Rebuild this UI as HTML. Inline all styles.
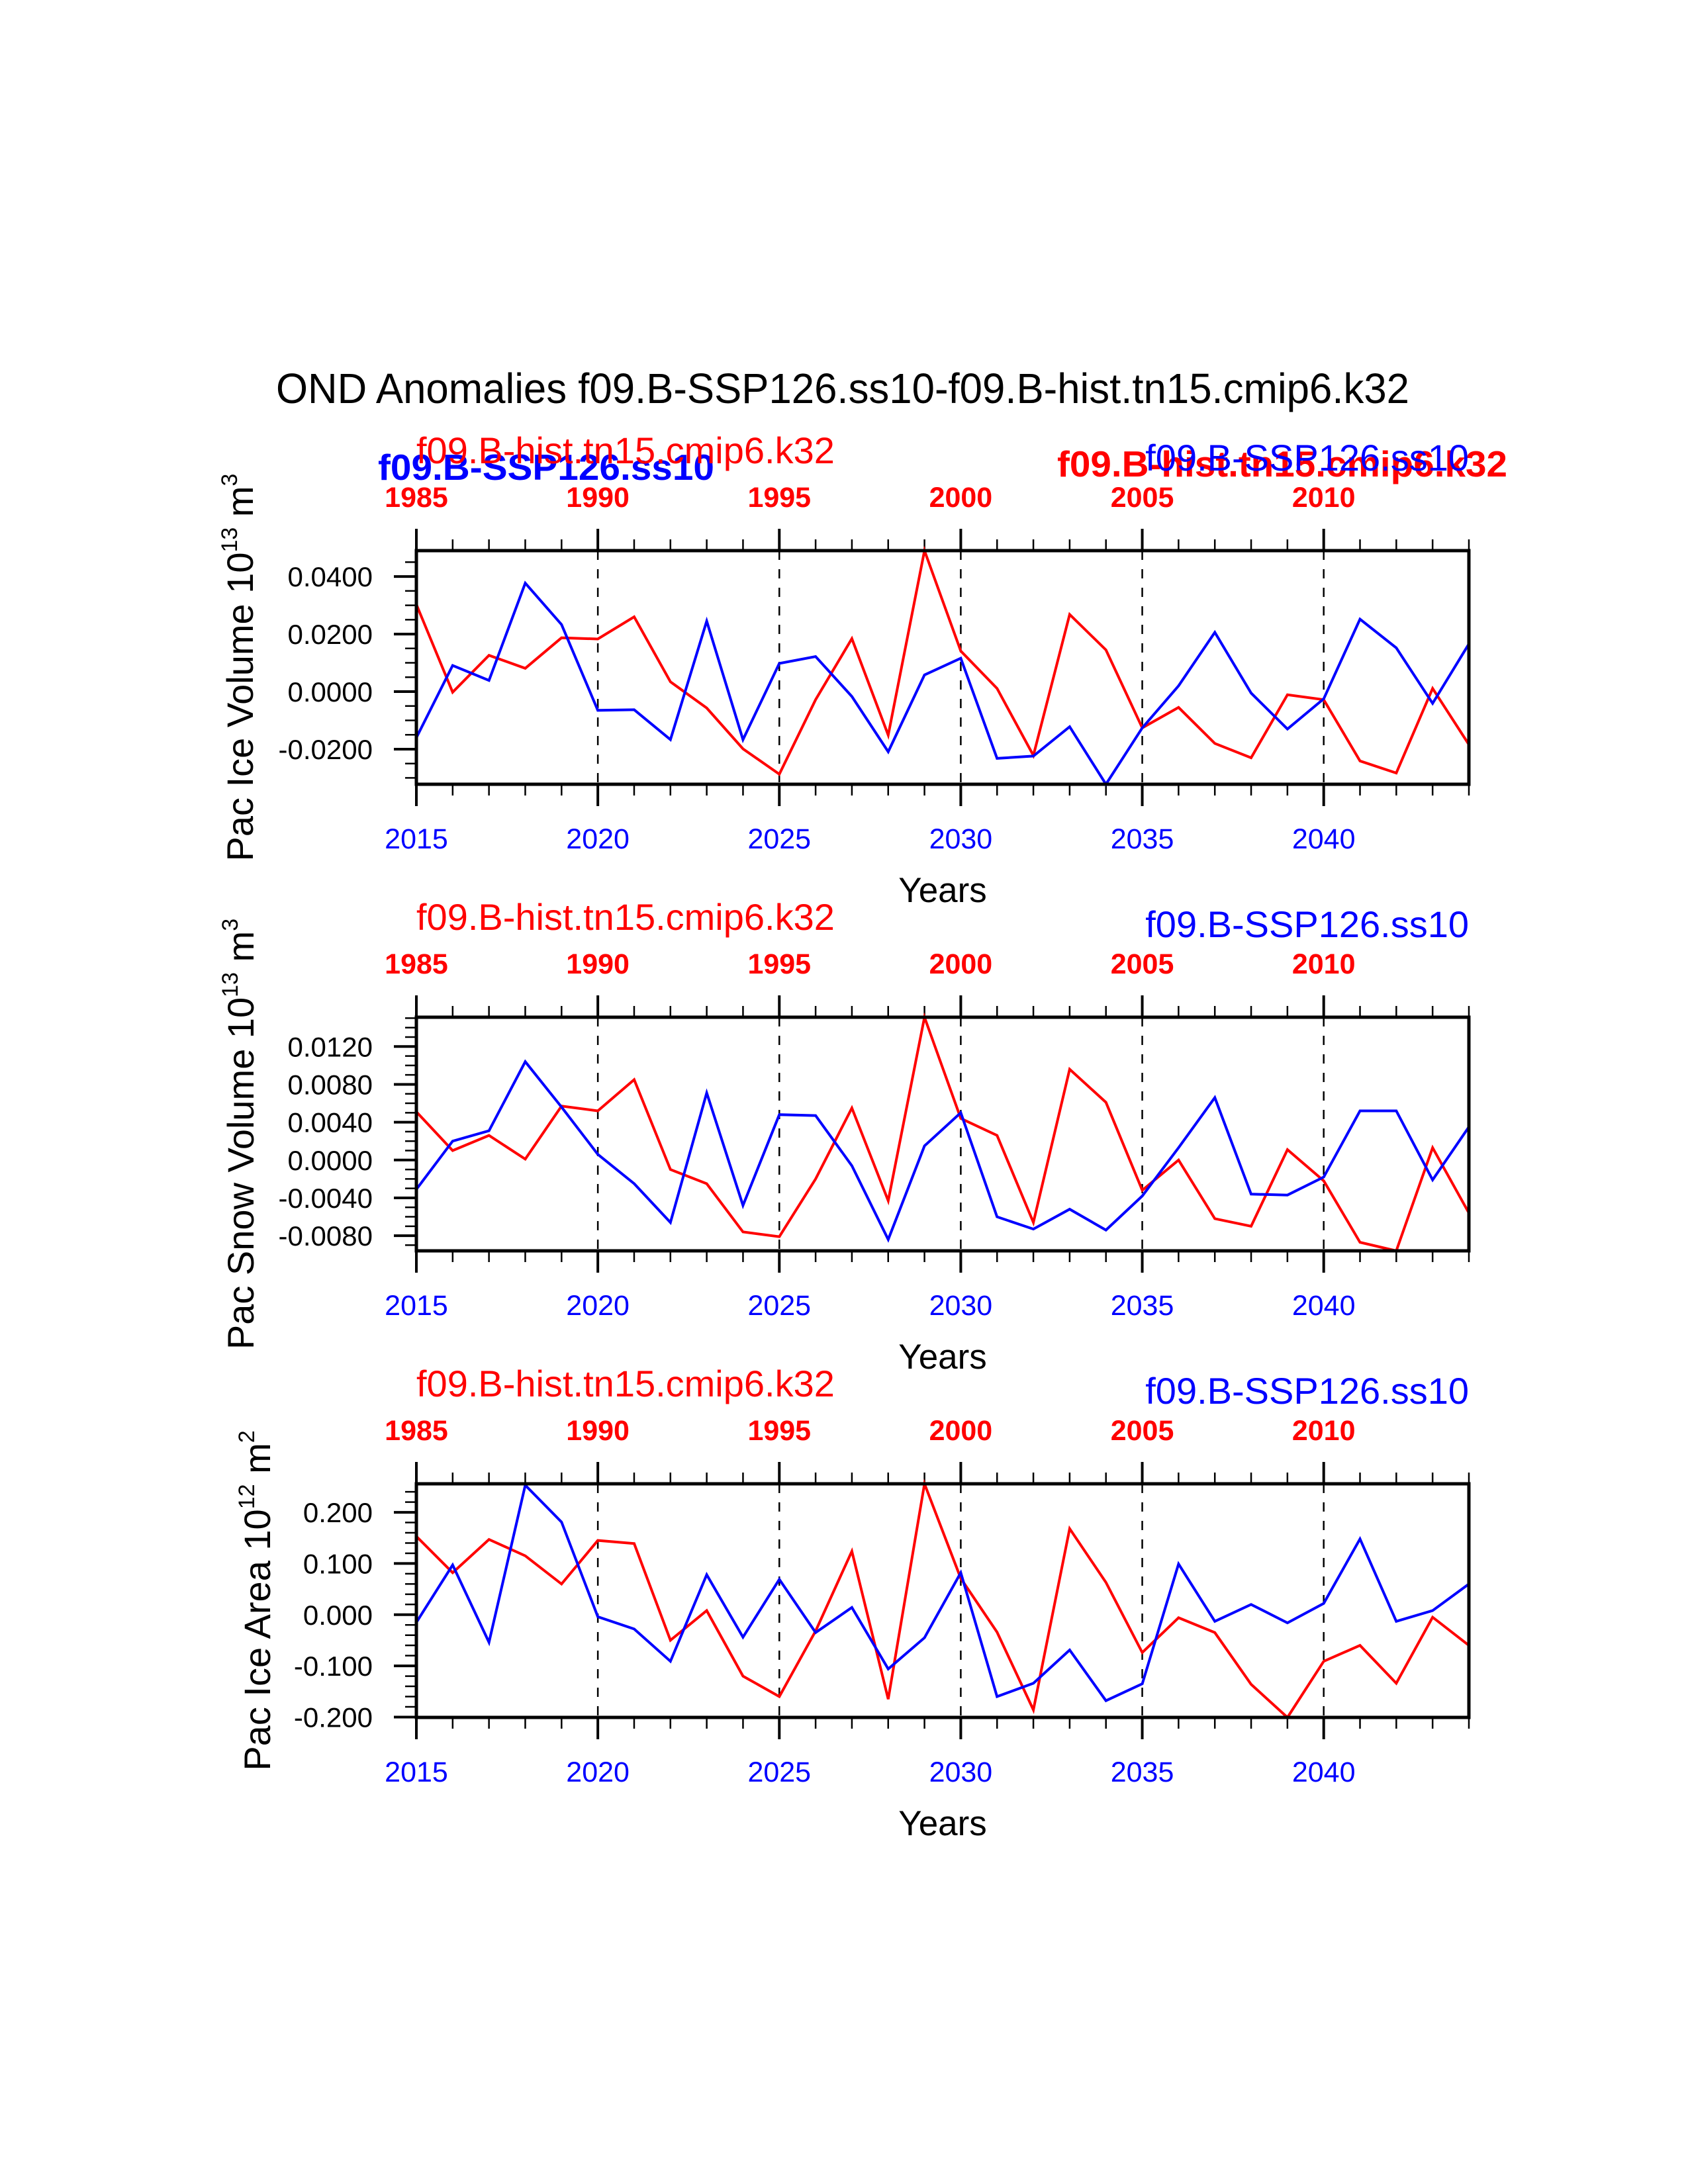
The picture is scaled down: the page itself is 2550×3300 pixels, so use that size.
<!DOCTYPE html>
<html><head><meta charset="utf-8"><title>OND Anomalies</title>
<style>html,body{margin:0;padding:0;background:#fff}svg{display:block}text{font-family:"Liberation Sans",Helvetica,Arial,sans-serif}</style>
</head><body>
<svg id="chart" xmlns="http://www.w3.org/2000/svg" width="2550" height="3300" viewBox="0 0 2550 3300">
<rect width="2550" height="3300" fill="#fff"/>
<text x="417" y="609" font-size="64" textLength="1712" lengthAdjust="spacingAndGlyphs">OND Anomalies f09.B-SSP126.ss10-f09.B-hist.tn15.cmip6.k32</text>
<text x="571" y="725" font-size="55" font-weight="bold" fill="#0000ff" textLength="508" lengthAdjust="spacingAndGlyphs">f09.B-SSP126.ss10</text>
<text x="1597" y="720" font-size="55" font-weight="bold" fill="#ff0000" textLength="680" lengthAdjust="spacingAndGlyphs">f09.B-hist.tn15.cmip6.k32</text>
<g id="panels"></g>
</svg>
<script>
// shared axes data
const years = [2015,2016,2017,2018,2019,2020,2021,2022,2023,2024,2025,2026,2027,2028,2029,2030,2031,2032,2033,2034,2035,2036,2037,2038,2039,2040,2041,2042,2043,2044];
const bottomTickYears = [2015,2020,2025,2030,2035,2040];
const topTickLabels = ["1985","1990","1995","2000","2005","2010"];

// panel 1: Pac Ice Volume
const iceVolBlue = [-0.016,0.0091,0.0039,0.0377,0.0233,-0.0065,-0.0063,-0.0167,0.0245,-0.0167,0.0098,0.0122,-0.0017,-0.0209,0.0058,0.0116,-0.0232,-0.0224,-0.0122,-0.0322,-0.0126,0.0020,0.0206,-0.0005,-0.0130,-0.0025,0.0252,0.0152,-0.0041,0.0166];
const iceVolRed = [0.0303,-0.0002,0.0126,0.0081,0.0187,0.0183,0.0260,0.0034,-0.0057,-0.0199,-0.0287,-0.0028,0.0184,-0.0151,0.0490,0.0141,0.0011,-0.0222,0.0268,0.0145,-0.0126,-0.0055,-0.0180,-0.0230,-0.0011,-0.0028,-0.0241,-0.0283,0.0011,-0.0184];
const iceVolTicks = [-0.02,0,0.02,0.04];
const iceVolTickLabels = ["-0.0200","0.0000","0.0200","0.0400"];

// panel 2: Pac Snow Volume
const snowVolBlue = [-0.0031,0.0020,0.0031,0.0104,0.0056,0.0006,-0.0025,-0.0066,0.0071,-0.0048,0.0048,0.0047,-0.0006,-0.0084,0.0015,0.0050,-0.0060,-0.0073,-0.0052,-0.0074,-0.0038,0.0013,0.0066,-0.0036,-0.0037,-0.0018,0.0052,0.0052,-0.0021,0.0035];
const snowVolRed = [0.0051,0.0010,0.0026,0.0001,0.0057,0.0052,0.0085,-0.0010,-0.0025,-0.0076,-0.0081,-0.0020,0.0055,-0.0043,0.0151,0.0044,0.0026,-0.0066,0.0096,0.0061,-0.0032,0.0000,-0.0062,-0.0070,0.0011,-0.0022,-0.0087,-0.0096,0.0013,-0.0056];
const snowVolTicks = [-0.008,-0.004,0,0.004,0.008,0.012];
const snowVolTickLabels = ["-0.0080","-0.0040","0.0000","0.0040","0.0080","0.0120"];

// panel 3: Pac Ice Area
const iceAreaBlue = [-0.015,0.097,-0.054,0.253,0.181,-0.004,-0.028,-0.091,0.078,-0.044,0.069,-0.035,0.014,-0.106,-0.045,0.082,-0.160,-0.134,-0.069,-0.168,-0.135,0.099,-0.013,0.020,-0.016,0.022,0.148,-0.013,0.008,0.060];
const iceAreaRed = [0.153,0.082,0.147,0.115,0.060,0.145,0.139,-0.050,0.008,-0.120,-0.160,-0.032,0.124,-0.165,0.2557,0.071,-0.034,-0.186,0.168,0.063,-0.074,-0.006,-0.035,-0.136,-0.2007,-0.091,-0.060,-0.134,-0.005,-0.060];
const iceAreaTicks = [-0.2,-0.1,0,0.1,0.2];
const iceAreaTickLabels = ["-0.200","-0.100","0.000","0.100","0.200"];

const NS = "http://www.w3.org/2000/svg";
const root = document.getElementById('panels');
const L = 629, R = 2219, H = 353;

function mk(tag, attrs, parent) {
  const e = document.createElementNS(NS, tag);
  for (const k in attrs) e.setAttribute(k, attrs[k]);
  (parent || root).appendChild(e);
  return e;
}

const panels = [
  {top:832, blue:iceVolBlue, red:iceVolRed, ticks:iceVolTicks, tickLabels:iceVolTickLabels, minor:0.005, title:["Pac Ice Volume 10","13"," m","3"], titleX:382, key:'ice-volume'},
  {top:1537, blue:snowVolBlue, red:snowVolRed, ticks:snowVolTicks, tickLabels:snowVolTickLabels, minor:0.001, title:["Pac Snow Volume 10","13"," m","3"], titleX:383, key:'snow-volume'},
  {top:2242, blue:iceAreaBlue, red:iceAreaRed, ticks:iceAreaTicks, tickLabels:iceAreaTickLabels, minor:0.02, title:["Pac Ice Area 10","12"," m","2"], titleX:408, key:'ice-area'}
];

panels.forEach(function(p){
  const g = mk('g', {});
  
  
  const all = p.blue.concat(p.red);
  const ymin = Math.min.apply(null, all), ymax = Math.max.apply(null, all);
  const T = p.top, B = p.top + H;
  const xs = function(yr){ return L + (yr - years[0]) / (years[years.length-1] - years[0]) * (R - L); };
  const ys = function(v){ return B - (v - ymin) / (ymax - ymin) * H; };

  bottomTickYears.forEach(function(yr){
    if (yr === years[0]) return;
    const ln = mk('line', {x1:xs(yr), x2:xs(yr), y1:T, y2:B, stroke:'#000', 'stroke-width':2.5, 'stroke-dasharray':'14 14'}, g);
    
    
  });

  years.forEach(function(yr){
    const major = (yr - 2015) % 5 === 0;
    const len = major ? 33 : 17;
    const x = xs(yr);
    const t1 = mk('line', {x1:x, x2:x, y1:T, y2:T-len, stroke:'#000', 'stroke-width': major?4:2.5}, g);
    
    
    const t2 = mk('line', {x1:x, x2:x, y1:B, y2:B+len, stroke:'#000', 'stroke-width': major?4:2.5}, g);
    
    
  });
  bottomTickYears.forEach(function(yr, i){
    const bl = mk('text', {x:xs(yr), y:B+97, 'font-size':43, fill:'#0000ff', 'text-anchor':'middle'}, g);
    bl.textContent = String(yr);
    
    
    const tl = mk('text', {x:xs(yr), y:T-66, 'font-size':43, 'font-weight':'bold', fill:'#ff0000', 'text-anchor':'middle'}, g);
    tl.textContent = topTickLabels[i];
    
    
  });

  const start = Math.ceil(ymin / p.minor - 1e-6);
  const end = Math.floor(ymax / p.minor + 1e-6);
  for (let k = start; k <= end; k++) {
    const y = ys(k * p.minor);
    const mt = mk('line', {x1:L, x2:L-17, y1:y, y2:y, stroke:'#000', 'stroke-width':2.5}, g);
    
    
  }
  p.ticks.forEach(function(v, i){
    const y = ys(v);
    const mt = mk('line', {x1:L, x2:L-34, y1:y, y2:y, stroke:'#000', 'stroke-width':4}, g);
    
    
    const lb = mk('text', {x:L-66, y:y+15, 'font-size':42, 'text-anchor':'end'}, g);
    lb.textContent = p.tickLabels[i];
    
    
  });

  function series(vals, color, name){
    const pts = vals.map(function(v, i){ return xs(years[i]).toFixed(1) + ',' + ys(v).toFixed(1); }).join(' ');
    const pl = mk('polyline', {points:pts, fill:'none', stroke:color, 'stroke-width':4, 'stroke-linejoin':'miter'}, g);
    
    
  }
  series(p.red, '#ff0000', p.key + '-hist-line');
  series(p.blue, '#0000ff', p.key + '-ssp126-line');

  const fr = mk('rect', {x:L, y:T, width:R-L, height:H, fill:'none', stroke:'#000', 'stroke-width':5}, g);
  
  

  const rs = mk('text', {x:L, y:T-132, 'font-size':56, fill:'#ff0000'}, g);
  rs.textContent = 'f09.B-hist.tn15.cmip6.k32';
  
  
  const bs = mk('text', {x:R, y:T-121, 'font-size':56, fill:'#0000ff', 'text-anchor':'end'}, g);
  bs.textContent = 'f09.B-SSP126.ss10';
  
  

  const xt = mk('text', {x:(L+R)/2, y:B+178, 'font-size':53, 'text-anchor':'middle'}, g);
  xt.textContent = 'Years';
  
  

  const cy = (T + B) / 2;
  const yt = mk('text', {x:0, y:0, 'font-size':56, 'text-anchor':'middle', transform:'translate(' + p.titleX + ',' + cy + ') rotate(-90)'}, g);
  
  
  const s1 = mk('tspan', {}, yt); s1.textContent = p.title[0];
  const s2 = mk('tspan', {dy:-24, 'font-size':34}, yt); s2.textContent = p.title[1];
  const s3 = mk('tspan', {dy:24}, yt); s3.textContent = p.title[2];
  const s4 = mk('tspan', {dy:-24, 'font-size':34}, yt); s4.textContent = p.title[3];
});
</script>
</body></html>
